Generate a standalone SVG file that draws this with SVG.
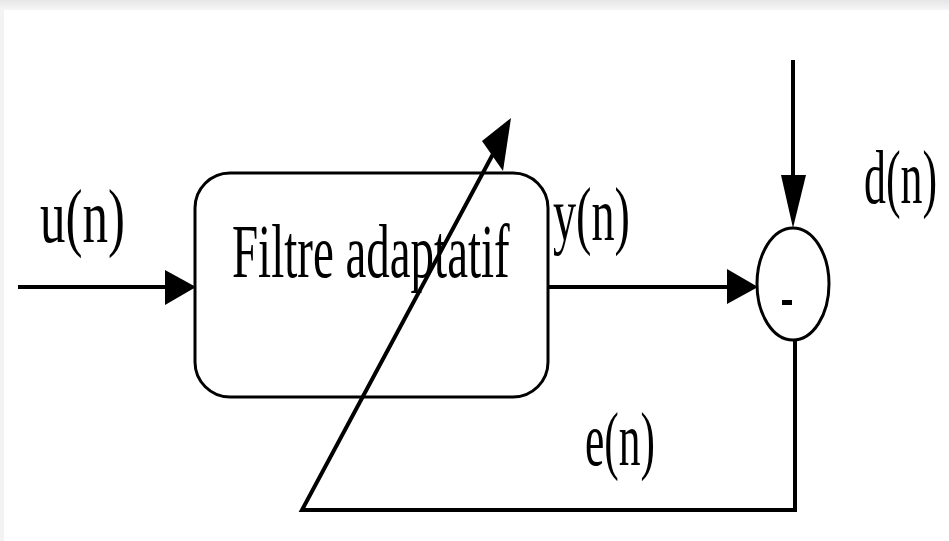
<svg xmlns="http://www.w3.org/2000/svg" width="949" height="541" viewBox="0 0 949 541">
<defs>
<linearGradient id="topband" x1="0" y1="0" x2="0" y2="1">
<stop offset="0" stop-color="#e6e6e6"/>
<stop offset="1" stop-color="#f6f6f6"/>
</linearGradient>
<style>
.ln{fill:none;stroke:#000;stroke-width:4;stroke-linejoin:miter}
.thin{fill:none;stroke:#000;stroke-width:3}
.ah{fill:#000;stroke:none}
.lbl{font-family:"Liberation Serif","Times New Roman",serif;font-size:76px;fill:#000}
</style>
</defs>
<rect x="0" y="0" width="949" height="541" fill="#fff"/>
<rect x="0" y="0" width="949" height="10" fill="url(#topband)"/>
<rect x="0" y="10" width="4" height="531" fill="#f3f3f3"/>
<g id="connectors">
<line class="ln" x1="18" y1="287" x2="168" y2="287"/>
<polygon class="ah" points="196,287 165,270 165,305"/>
<line class="ln" x1="548" y1="287" x2="730" y2="287"/>
<polygon class="ah" points="758,287 727,269 727,304"/>
<line class="ln" x1="793" y1="60" x2="793" y2="178"/>
<polygon class="ah" points="793,228 781,175 806,175"/>
<polyline class="ln" points="795,340 795,510 302,510 493,154"/>
<polygon class="ah" points="511,118 482,141 503,171"/>
</g>
<g id="filtre">
<rect class="thin" x="195" y="173" width="353" height="224" rx="35" ry="35"/>
<text class="lbl" transform="translate(232,277) scale(0.618,1)" font-size="78">Filtre adaptatif</text>
</g>
<g id="soustracteur">
<ellipse class="thin" cx="793" cy="284" rx="36" ry="56"/>
<rect x="782" y="300" width="10" height="5" fill="#000"/>
</g>
<g id="labels">
<text class="lbl" transform="translate(40,242) scale(0.671,1)">u(n)</text>
<text class="lbl" transform="translate(553,240) scale(0.608,1)">y(n)</text>
<text class="lbl" transform="translate(864,203) scale(0.577,1)">d(n)</text>
<text class="lbl" transform="translate(585,465) scale(0.572,1)">e(n)</text>
</g>
</svg>
